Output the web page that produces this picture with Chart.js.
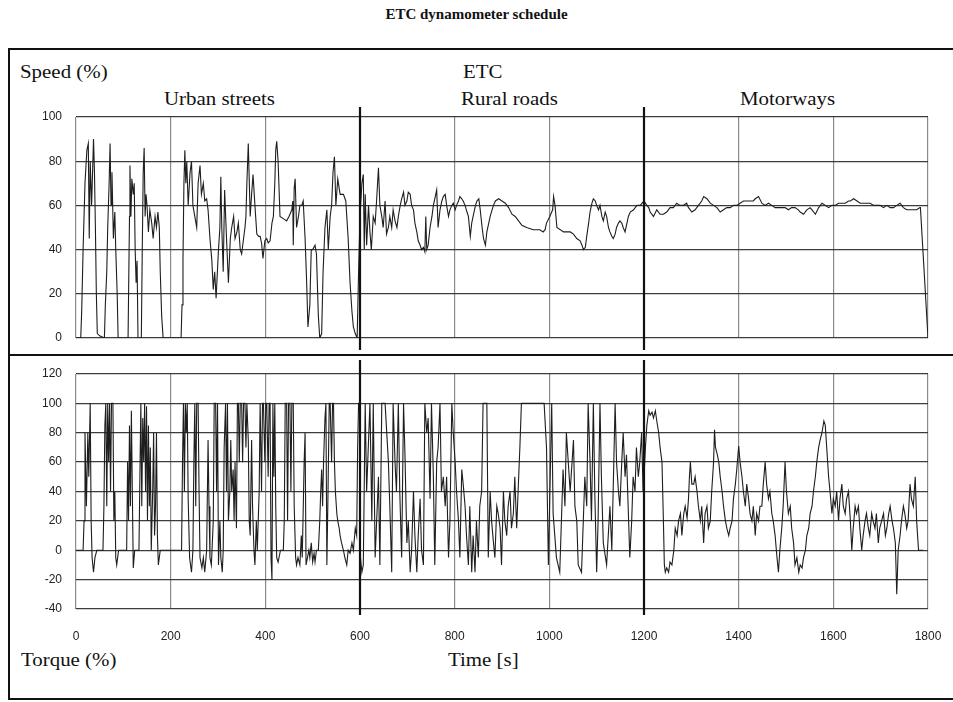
<!DOCTYPE html>
<html>
<head>
<meta charset="utf-8">
<script src="https://cdn.jsdelivr.net/npm/chart.js@4/dist/chart.umd.min.js"></script>
<style>
  body { margin: 0; background: #fff; width: 953px; height: 702px; position: relative; overflow: hidden; }
  .txt { position: absolute; font-family: "Liberation Serif", "DejaVu Serif", serif; color: #111; white-space: nowrap; font-size: 19px; transform: scaleX(1.1); transform-origin: left top; }
  #title { left: 0; width: 953px; top: 6px; text-align: center; font-weight: bold; font-size: 15px; transform: none; }
  #box { position: absolute; left: 8px; top: 48px; width: 950px; height: 648px; border: 2px solid #111; }
  #sep { position: absolute; left: 8px; top: 354px; width: 952px; height: 2px; background: #111; }
  .cv { position: absolute; left: 0; }
</style>
</head>
<body>
<div id="title" class="txt">ETC dynamometer schedule</div>
<div id="box"></div>
<div id="sep"></div>
<div class="txt" style="left:20px;top:61px;">Speed (%)</div>
<div class="txt" style="left:463px;top:61px;">ETC</div>
<div class="txt" style="left:164px;top:88px;">Urban streets</div>
<div class="txt" style="left:461px;top:88px;">Rural roads</div>
<div class="txt" style="left:740px;top:88px;">Motorways</div>
<div class="txt" style="left:21px;top:649px;">Torque (%)</div>
<div class="txt" style="left:448px;top:649px;">Time [s]</div>
<canvas id="speedChart" class="cv" width="953" height="250" style="top:100px"></canvas>
<canvas id="torqueChart" class="cv" width="953" height="300" style="top:360px"></canvas>
<script>
// time axis (s)
const timeTicks = [0, 200, 400, 600, 800, 1000, 1200, 1400, 1600, 1800];
const segmentBounds = [600, 1200];
const speedTicks = [0, 20, 40, 60, 80, 100];
const torqueTicks = [-40, -20, 0, 20, 40, 60, 80, 100, 120];

// Speed (%) trace
const speedTime = [
  0, 10, 12, 15, 19, 23, 26, 28, 30, 33, 37, 39, 41, 43, 45, 50, 60, 62, 65, 67, 70, 72, 74, 76, 79, 82, 84, 87, 89, 110,
  113, 114, 116, 118, 121, 123, 125, 127, 129, 131, 138, 140, 142, 144, 146, 148, 150, 153, 156, 160, 163, 167, 170, 173, 176, 178, 181, 184, 222,
  224, 226, 228, 230, 232, 234, 237, 241, 244, 247, 251, 255, 258, 262, 265, 269, 272, 276, 279, 283, 287, 290, 293, 296, 301,
  304, 306, 308, 311, 314, 318, 322, 326, 329, 333, 336, 340, 343, 347, 350, 354, 357, 359, 361, 364, 368, 371, 374, 378,
  382, 386, 389, 392, 395, 399, 403, 406, 410, 414, 417, 420, 422, 424, 427, 431, 438, 445, 450, 456, 458, 459, 461, 463,
  466, 470, 473, 477, 480, 484, 487, 490, 494, 497, 500, 505, 508, 512, 515, 519, 522, 526, 530, 533, 537, 540, 543, 546,
  549, 553, 558, 565, 570, 575, 579, 583, 586, 590, 594, 597, 600, 604, 607, 609, 611, 614, 618, 621, 624, 628, 632, 635,
  639, 642, 646, 649, 653, 656, 660, 663, 667, 670, 674, 678, 681, 685, 688, 692, 695, 699, 702, 706, 709, 713, 716, 720,
  723, 727, 730, 734, 737, 739, 741, 744, 748, 752, 755, 759, 762, 765, 769, 773, 776, 780, 783, 787, 790, 794, 797, 801,
  804, 808, 811, 815, 818, 822, 826, 829, 833, 836, 840, 844, 847, 851, 854, 858, 861, 865, 868, 872, 875, 879, 882, 886,
  893, 900, 907, 914, 921, 928, 935, 942, 952, 966, 980, 987, 991, 994, 1001, 1005, 1007, 1009, 1012, 1016, 1030, 1044,
  1051, 1058, 1065, 1069, 1072, 1076, 1079, 1083, 1086, 1090, 1093, 1097, 1100, 1104, 1107, 1111, 1114, 1118, 1121, 1125,
  1128, 1132, 1135, 1139, 1142, 1146, 1149, 1153, 1156, 1160, 1164, 1167, 1171, 1178, 1185, 1192, 1200,
  1206, 1210, 1213, 1220, 1227, 1234, 1241, 1248, 1255, 1262, 1269, 1276, 1283, 1290, 1294, 1301, 1308, 1315, 1322, 1326,
  1333, 1340, 1347, 1354, 1361, 1368, 1375, 1382, 1389, 1396, 1403, 1410, 1417, 1424, 1431, 1435, 1442, 1449, 1456, 1463,
  1470, 1477, 1484, 1491, 1498, 1505, 1512, 1519, 1526, 1530, 1537, 1544, 1551, 1555, 1562, 1569, 1576, 1583, 1590, 1597,
  1604, 1611, 1618, 1625, 1632, 1636, 1643, 1650, 1657, 1664, 1671, 1678, 1685, 1692, 1699, 1706, 1713, 1720, 1727, 1734,
  1741, 1748, 1755, 1762, 1769, 1776, 1783, 1784, 1800
];
const speedValue = [
  0, 0, 12, 40, 70, 85, 88, 45, 80, 60, 90, 75, 50, 20, 2, 1, 0, 15, 30, 50, 70, 88, 60, 75, 45, 57, 40, 20, 0, 0,
  55, 78, 55, 72, 65, 70, 40, 25, 35, 0, 0, 40, 75, 86, 55, 65, 60, 48, 58, 52, 45, 55, 50, 57, 50, 30, 10, 0, 0,
  15, 35, 70, 85, 70, 80, 60, 75, 80, 60, 55, 50, 70, 78, 65, 70, 62, 63, 58, 45, 35, 22, 30, 18, 40, 50,
  73, 50, 30, 67, 45, 25, 45, 50, 55, 45, 48, 52, 40, 38, 45, 50, 55, 70, 88, 55, 65, 74, 60, 47,
  46, 46, 43, 36, 44, 45, 43, 44, 52, 55, 70, 85, 89, 80, 55, 54, 53, 55, 58, 62, 42, 68, 72, 50,
  55, 60, 60, 62, 45, 27, 5, 15, 40, 40, 42, 38, 10, 0, 2, 30, 50, 58, 40, 55, 60, 75, 82, 60,
  72, 65, 65, 62, 45, 25, 12, 5, 2, 0, 30, 55, 70, 74, 40, 65, 42, 60, 48, 40, 55, 52, 62, 77,
  60, 55, 50, 62, 47, 50, 55, 50, 58, 53, 50, 55, 60, 63, 66, 60, 62, 66, 65, 60, 58, 52, 48, 44,
  42, 40, 41, 39, 55, 40, 42, 50, 55, 60, 64, 67, 50, 58, 62, 64, 65, 60, 55, 58, 60, 61, 58, 60,
  62, 64, 63, 62, 60, 57, 55, 46, 52, 56, 60, 62, 63, 58, 50, 45, 42, 48, 52, 55, 58, 60, 62, 63,
  62, 61, 59, 56, 55, 53, 51, 50, 49, 49, 48, 49, 52, 55, 57, 58, 64, 60, 50, 48, 48, 47,
  45, 44, 42, 40, 41, 46, 52, 57, 61, 63, 62, 60, 58, 60, 55, 53, 57, 55, 50, 48,
  46, 45, 47, 50, 52, 53, 52, 50, 48, 52, 55, 57, 58, 60, 60, 62, 60,
  59, 57, 55, 58, 56, 56, 57, 59, 59, 61, 60, 60, 61, 59, 57, 58, 60, 62, 64, 63,
  61, 60, 59, 57, 58, 59, 59, 60, 60, 61, 62, 62, 62, 62, 63, 64, 61, 60, 61, 60,
  59, 59, 59, 59, 58, 59, 59, 58, 57, 56, 58, 59, 58, 56, 59, 61, 60, 59, 60, 60,
  61, 61, 61, 62, 62, 63, 62, 61, 61, 61, 61, 60, 60, 60, 59, 60, 59, 59, 60, 61,
  59, 58, 58, 58, 58, 59, 59, 0, 0
];

// Torque (%) trace
const torqueTime = [
  0, 15, 17, 19, 22, 25, 27, 30, 32, 34, 37, 40, 44, 57, 59, 61, 63, 65, 67, 69, 71, 73, 75, 78, 80, 82, 84, 86, 90, 107,
  109, 111, 113, 115, 117, 119, 121, 124, 133, 135, 137, 139, 141, 143, 145, 147, 149, 151, 153, 155, 157, 159, 162, 164, 166, 168, 170, 172, 174, 178,
  184, 223, 225, 227, 229, 231, 233, 235, 237, 240, 244, 247, 249, 251, 253, 255, 258, 260, 262, 266, 269, 272, 276, 279,
  281, 283, 286, 290, 292, 295, 297, 299, 301, 304, 306, 309, 311, 313, 316, 318, 320, 322, 325, 327, 329, 332, 334, 336,
  339, 341, 343, 345, 347, 350, 352, 354, 357, 359, 361, 364, 366, 368, 371, 373, 376, 378, 381, 383, 385, 387, 389, 392,
  394, 396, 399, 401, 403, 406, 408, 410, 412, 414, 416, 418, 420, 422, 424, 427, 432, 438, 440, 442, 445, 447, 449, 452,
  454, 456, 459, 461, 464, 466, 469, 473, 476, 478, 482, 484, 486, 489, 492, 494, 497, 500, 503, 505, 508, 512, 515, 517,
  519, 521, 523, 526, 528, 530, 532, 535, 537, 540, 542, 544, 546, 548, 551, 553, 556, 558, 561, 565, 568, 572, 575, 579,
  583, 586, 590, 593, 595, 597, 599, 601, 604, 607, 611, 614, 621, 625, 628, 632, 639, 642, 646, 653, 660, 663, 667, 670,
  674, 677, 681, 684, 688, 692, 695, 699, 702, 706, 709, 713, 716, 720, 723, 727, 730, 734, 737, 741, 744, 748, 751, 755,
  758, 762, 765, 769, 772, 776, 780, 783, 787, 790, 794, 797, 801, 804, 808, 811, 815, 818, 822, 825, 829, 832, 836, 839,
  843, 846, 850, 853, 857, 860, 864, 868, 871, 875, 878, 882, 885, 889, 892, 896, 899, 903, 906, 910, 913, 917, 920, 924,
  927, 931, 934, 938, 941, 985, 989, 994, 998, 1005, 1008, 1015, 1022, 1029, 1033, 1036, 1044, 1051, 1054, 1058, 1061, 1068, 1075, 1079,
  1082, 1086, 1089, 1093, 1096, 1100, 1103, 1107, 1110, 1114, 1121, 1128, 1132, 1139, 1142, 1146, 1149, 1153, 1156, 1160,
  1163, 1170, 1174, 1177, 1181, 1184, 1188, 1191, 1195, 1198, 1200, 1203, 1206, 1210, 1213, 1217, 1220, 1224, 1227, 1231,
  1234, 1238, 1241, 1243, 1245, 1248, 1252, 1255, 1259, 1263, 1266, 1270, 1273, 1277, 1280, 1284, 1287, 1291, 1294, 1296,
  1298, 1301, 1305, 1308, 1312, 1315, 1319, 1322, 1326, 1329, 1333, 1336, 1340, 1343, 1347, 1349, 1351, 1355, 1358, 1361,
  1365, 1368, 1372, 1375, 1379, 1382, 1386, 1389, 1393, 1396, 1400, 1403, 1407, 1410, 1414, 1417, 1421, 1424, 1428, 1431,
  1435, 1438, 1442, 1445, 1449, 1452, 1456, 1459, 1463, 1466, 1470, 1473, 1477, 1481, 1484, 1487, 1491, 1494, 1498, 1501,
  1505, 1509, 1512, 1516, 1519, 1523, 1527, 1530, 1534, 1537, 1541, 1544, 1548, 1551, 1555, 1558, 1562, 1565, 1569, 1572,
  1576, 1580, 1583, 1586, 1590, 1593, 1597, 1600, 1604, 1607, 1611, 1614, 1618, 1621, 1625, 1628, 1632, 1636, 1639, 1642,
  1646, 1649, 1653, 1656, 1660, 1663, 1667, 1670, 1674, 1677, 1681, 1684, 1688, 1691, 1695, 1698, 1702, 1706, 1710, 1713,
  1717, 1720, 1724, 1727, 1731, 1734, 1737, 1741, 1744, 1748, 1751, 1755, 1758, 1762, 1765, 1769, 1773, 1776, 1780, 1790
];
const torqueValue = [
  0, 0, 20, 80, 30, 80, 50, 100, 20, -5, -15, -5, 0, 0, 30, 85, 100, 30, 100, 60, 100, 40, 100, 100, 20, 40, -5, -10, 0, 0,
  60, 20, 85, 30, 95, 40, -12, 0, 0, 50, 100, 30, 90, 60, 100, 40, 98, 20, 85, 30, 70, 0, 40, 80, 10, 30, 80, 10, -10, 0,
  0, 0, 60, 100, 40, 100, 80, 100, 35, -5, -15, 0, 60, 100, 30, 100, 100, 40, -5, -12, -5, -15, 0, 75,
  30, -5, -10, 20, 100, 100, 40, 100, -10, 20, -5, -15, 0, 70, 100, 40, 100, 20, 40, 75, 40, 55, 20, 60,
  15, 100, 100, 60, 100, 100, 60, 100, 100, 70, 100, 75, 20, 10, 75, 30, 0, -10, 20, 0, 20, 40, 100, 40,
  100, 100, 60, 100, 100, 50, 100, 100, -5, -20, 100, 50, 100, 30, -5, -8, 0, 0, 20, 100, 100, 20, 100, 100,
  40, 100, 100, 30, -5, -10, -5, -10, 10, -5, 60, 80, -10, -5, 0, -5, 5, -8, -2, -8, 0, 0, 20, 40,
  55, 30, 60, 90, 100, -10, 30, 100, 100, 60, 100, 100, 60, 40, 25, 20, 15, 10, 5, 0, -5, -10, 0, -2,
  5, 0, 15, 10, 70, 100, 100, -5, -15, -10, 100, 40, 100, 20, 100, -5, 50, -10, 100, 100, 60, 30, -15, 100,
  60, 40, 100, 40, -5, 100, 65, 5, 20, -15, 0, 40, 10, -15, 10, 35, 0, -10, 100, 80, 90, 35, 100, 50,
  -10, 60, 70, 100, 40, 50, 30, 50, -5, 20, 100, 80, 60, 40, 20, -5, 55, 45, 30, 10, -10, 30, -15, 10,
  -15, 20, -5, 30, 40, 100, 100, 100, -5, 40, 20, 5, -5, 30, 25, 15, -10, 40, 20, 10, 30, 40, 15, 25,
  50, 15, 40, 72, 100, 100, 100, 70, -10, 100, 25, -5, -15, 55, 30, 80, 40, 75, 30, 20, -10, -15, 50, 30,
  100, 60, 20, 100, 40, -15, 20, 100, 50, 5, -10, 30, 0, 100, 60, 40, 30, 60, 80, 50,
  65, -5, 20, 50, 40, 70, 50, 60, 80, 40, 50, 70, 85, 95, 92, 94, 90, 95, 88, 80,
  70, 60, 20, -10, -15, -12, -15, -8, -10, 0, 15, 10, 20, 25, 10, 25, 30, 22, 35, 50,
  60, 45, 45, 50, 40, 30, 20, 30, 5, 25, 30, 15, 20, 40, 60, 82, 70, 65, 60, 50,
  40, 30, 20, 15, 10, 15, 20, 35, 45, 55, 71, 60, 50, 40, 30, 45, 35, 25, 20, 30,
  10, 25, 20, 30, 30, 45, 60, 45, 35, 40, 25, 20, 10, -5, -15, 0, 15, 30, 60, 40,
  25, 30, 15, 5, -10, -5, -15, -10, -12, -5, 0, 10, 15, 25, 30, 40, 50, 60, 70, 75,
  80, 88, 85, 70, 50, 40, 25, 35, 30, 40, 20, 35, 45, 30, 25, 35, 40, 20, 0, 15,
  30, 25, 30, 15, 0, 10, 20, 25, 15, 10, 25, 20, 15, 25, 5, 15, 20, 25, 10, 15,
  25, 30, 20, 15, 5, -30, 0, 10, 20, 30, 25, 15, 20, 45, 35, 30, 50, 20, 0, 0
];

const toPoints = (t, v) => t.map((x, i) => ({ x: x, y: v[i] }));

// thick section dividers at 600 s and 1200 s
const dividerPlugin = {
    id: 'dividers',
    afterDatasetsDraw(chart, args, opts) {
        const ctx = chart.ctx;
        const xs = chart.scales.x;
        const area = chart.chartArea;
        ctx.save();
        ctx.strokeStyle = '#111';
        ctx.lineWidth = 2.2;
        segmentBounds.forEach(b => {
            const px = Math.round(xs.getPixelForValue(b));
            ctx.beginPath();
            ctx.moveTo(px, area.top - opts.above);
            ctx.lineTo(px, area.bottom + opts.below);
            ctx.stroke();
        });
        ctx.restore();
    }
};

function makeChart(id, points, yTicks, pad, xHeight, showX, ext) {
    return new Chart(document.getElementById(id), {
        type: 'line',
        data: {
            datasets: [{
                data: points,
                borderColor: '#1e1e1e',
                borderWidth: 1.1,
                pointRadius: 0,
                tension: 0,
                fill: false
            }]
        },
        options: {
            responsive: false,
            animation: false,
            events: [],
            layout: { padding: pad },
            plugins: { legend: { display: false }, tooltip: { enabled: false }, dividers: ext },
            scales: {
                x: {
                    type: 'linear',
                    min: 0,
                    max: 1800,
                    afterBuildTicks: s => { s.ticks = timeTicks.map(v => ({ value: v })); },
                    afterFit: s => { s.height = xHeight; s.paddingLeft = 0; s.paddingRight = 0; },
                    border: { display: false },
                    grid: { color: '#8a8a8a', lineWidth: 1.2, drawTicks: false },
                    ticks: {
                        display: showX,
                        padding: 20,
                        maxRotation: 0,
                        color: '#222',
                        font: { family: 'Liberation Sans', size: 12 },
                        callback: v => String(v)
                    }
                },
                y: {
                    min: yTicks[0],
                    max: yTicks[yTicks.length - 1],
                    afterBuildTicks: s => { s.ticks = yTicks.map(v => ({ value: v })); },
                    afterFit: s => { s.width = 76; s.paddingTop = 0; s.paddingBottom = 0; },
                    border: { display: false },
                    grid: { color: '#3c3c3c', lineWidth: 1.3, drawTicks: false },
                    ticks: {
                        padding: 14,
                        color: '#222',
                        font: { family: 'Liberation Sans', size: 12 },
                        callback: v => String(v)
                    }
                }
            }
        },
        plugins: [dividerPlugin]
    });
}

makeChart('speedChart', toPoints(speedTime, speedValue), speedTicks,
    { top: 17, bottom: 12, left: 0, right: 25 }, 0, false, { above: 10, below: 13 });
makeChart('torqueChart', toPoints(torqueTime, torqueValue), torqueTicks,
    { top: 14, bottom: 0, left: 0, right: 25 }, 51, true, { above: 16, below: 6 });
</script>
</body>
</html>
